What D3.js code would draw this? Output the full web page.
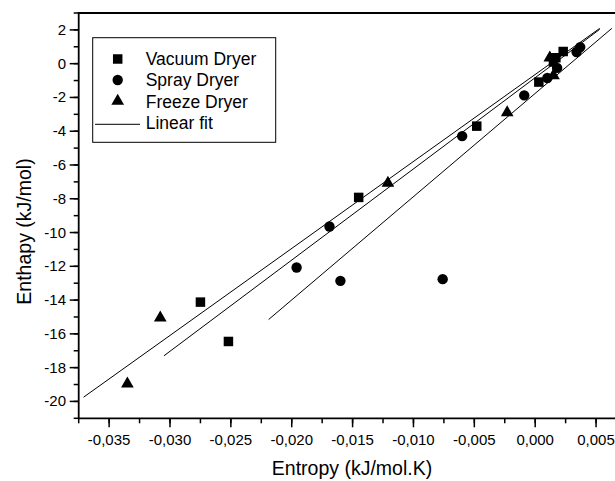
<!DOCTYPE html>
<html>
<head>
<meta charset="utf-8">
<script src="https://cdn.jsdelivr.net/npm/d3@7"></script>
<style>
body { margin: 0; background: #fff; }
text { font-family: "Liberation Sans", Arial, sans-serif; fill: #000; }
</style>
</head>
<body>
<script>
// ----------------------------------- DATA --------------------------------------------
var vacuumX = [-0.0275, -0.0252, -0.0145, -0.0048, 0.0003, 0.0015, 0.0023, 0.0017]
var vacuumY = [-14.12, -16.45, -7.92, -3.70, -1.09, 0.10, 0.72, 0.35]

var sprayX = [-0.0169, -0.0196, -0.0160, -0.0076, -0.0060, -0.0009, 0.0010, 0.0018, 0.0034, 0.0037]
var sprayY = [-9.64, -12.07, -12.86, -12.76, -4.29, -1.88, -0.85, -0.25, 0.69, 0.98]

var freezeX = [-0.0335, -0.0308, -0.0121, -0.0023, 0.0012, 0.0015]
var freezeY = [-18.96, -15.05, -7.07, -2.90, 0.35, -0.70]

// linear fits: y = slope * x + intercept, drawn from fitStart to fitEnd
var fitStart = [-0.0371, -0.0305, -0.0219]
var fitEnd = [0.0053, 0.0053, 0.0063]
var fitSlope = [515.1, 540.0, 611.5]
var fitIntercept = [-0.64, -0.83, -1.76]

var xTicks = [-0.035, -0.030, -0.025, -0.020, -0.015, -0.010, -0.005, 0.000, 0.005]
var yTicks = [2, 0, -2, -4, -6, -8, -10, -12, -14, -16, -18, -20]

var legendNames = ['Vacuum Dryer', 'Spray Dryer', 'Freeze Dryer', 'Linear fit']

// ----------------------------------- SVG --------------------------------------------
var width = 615
var height = 481

var svg = d3.select('body')
			.append('svg')
			.attr('width', width)
			.attr('height', height)

svg.append('rect')
	.attr('width', '100%')
	.attr('height', '100%')
	.attr('fill', '#ffffff')

var plotLeft = 78.7, plotRight = 620.4, plotTop = 13, plotBottom = 418.3

var x = d3.scaleLinear().domain([-0.0375, 0.007]).range([plotLeft, plotRight])
var y = d3.scaleLinear().domain([-21, 3]).range([plotBottom, plotTop])

var fmt = function(d){ return d3.format('.3f')(d).replace('.', ',').replace('−', '-') }

// ----------------------------------- AXES --------------------------------------------
var xMinor = d3.range(-0.0375, 0.0071, 0.0025)
var yMinor = d3.range(-21, 3.01, 1)

svg.append('g')
	.selectAll('line')
	.data(xMinor)
	.enter()
	.append('line')
	.attr('x1', d => x(d)).attr('x2', d => x(d))
	.attr('y1', plotBottom).attr('y2', plotBottom + 5)
	.attr('stroke', '#000').attr('stroke-width', 1.5)

svg.append('g')
	.selectAll('line')
	.data(xTicks)
	.enter()
	.append('line')
	.attr('x1', d => x(d)).attr('x2', d => x(d))
	.attr('y1', plotBottom).attr('y2', plotBottom + 9)
	.attr('stroke', '#000').attr('stroke-width', 1.5)

svg.append('g')
	.selectAll('text')
	.data(xTicks)
	.enter()
	.append('text')
	.attr('x', d => x(d))
	.attr('y', 444.5)
	.attr('text-anchor', 'middle')
	.attr('font-size', 15)
	.text(fmt)

svg.append('g')
	.selectAll('line')
	.data(yMinor)
	.enter()
	.append('line')
	.attr('x1', plotLeft - 5).attr('x2', plotLeft)
	.attr('y1', d => y(d)).attr('y2', d => y(d))
	.attr('stroke', '#000').attr('stroke-width', 1.5)

svg.append('g')
	.selectAll('line')
	.data(yTicks)
	.enter()
	.append('line')
	.attr('x1', plotLeft - 9).attr('x2', plotLeft)
	.attr('y1', d => y(d)).attr('y2', d => y(d))
	.attr('stroke', '#000').attr('stroke-width', 1.5)

svg.append('g')
	.selectAll('text')
	.data(yTicks)
	.enter()
	.append('text')
	.attr('x', 66)
	.attr('y', d => y(d) + 5)
	.attr('text-anchor', 'end')
	.attr('font-size', 15)
	.text(d => String(d))

// frame
svg.append('path')
	.attr('d', 'M' + plotLeft + ',' + plotBottom + 'L' + plotLeft + ',' + plotTop + 'L' + plotRight + ',' + plotTop
		+ 'M' + plotLeft + ',' + plotBottom + 'L' + plotRight + ',' + plotBottom)
	.attr('fill', 'none')
	.attr('stroke', '#000')
	.attr('stroke-width', 1.8)

svg.append('text')
	.attr('x', 352)
	.attr('y', 475)
	.attr('text-anchor', 'middle')
	.attr('font-size', 19.5)
	.text('Entropy (kJ/mol.K)')

svg.append('text')
	.attr('transform', 'translate(31,231.5) rotate(-90)')
	.attr('text-anchor', 'middle')
	.attr('font-size', 19.5)
	.text('Enthapy (kJ/mol)')

// ----------------------------------- FITS --------------------------------------------
var line = d3.line().x(d => x(d[0])).y(d => y(d[1]))

svg.append('g')
	.selectAll('path')
	.data(fitSlope)
	.enter()
	.append('path')
	.attr('d', function(s, i){
		return line([[fitStart[i], s * fitStart[i] + fitIntercept[i]],
					 [fitEnd[i], s * fitEnd[i] + fitIntercept[i]]])
	})
	.attr('fill', 'none')
	.attr('stroke', '#000')
	.attr('stroke-width', 1)

// ----------------------------------- MARKERS --------------------------------------------
var square = d3.symbol().type(d3.symbolSquare).size(90)
var circle = d3.symbol().type(d3.symbolCircle).size(85)
var triangle = d3.symbol().type(d3.symbolTriangle).size(70)

function drawPoints(xs, ys, sym){
	svg.append('g')
		.selectAll('path')
		.data(xs)
		.enter()
		.append('path')
		.attr('transform', (d, i) => 'translate(' + x(d) + ',' + y(ys[i]) + ')')
		.attr('d', sym)
		.attr('fill', '#000')
}
drawPoints(vacuumX, vacuumY, square)
drawPoints(sprayX, sprayY, circle)
drawPoints(freezeX, freezeY, triangle)

// ----------------------------------- LEGEND --------------------------------------------
svg.append('rect')
	.attr('x', 92.7).attr('y', 37.7)
	.attr('width', 183).attr('height', 104.6)
	.attr('fill', '#fff')
	.attr('stroke', '#000')
	.attr('stroke-width', 1)

var legendSyms = [square, circle, triangle]
legendSyms.forEach(function(sym, i){
	svg.append('path')
		.attr('transform', 'translate(117.7,' + (59 + i * 21) + ')')
		.attr('d', sym)
		.attr('fill', '#000')
})

svg.append('line')
	.attr('x1', 95).attr('x2', 140)
	.attr('y1', 124.3).attr('y2', 124.3)
	.attr('stroke', '#000')
	.attr('stroke-width', 1)

svg.append('g')
	.selectAll('text')
	.data(legendNames)
	.enter()
	.append('text')
	.attr('x', 145.7)
	.attr('y', (d, i) => 65 + i * 21.4)
	.attr('font-size', 17.5)
	.text(d => d)
</script>
</body>
</html>
